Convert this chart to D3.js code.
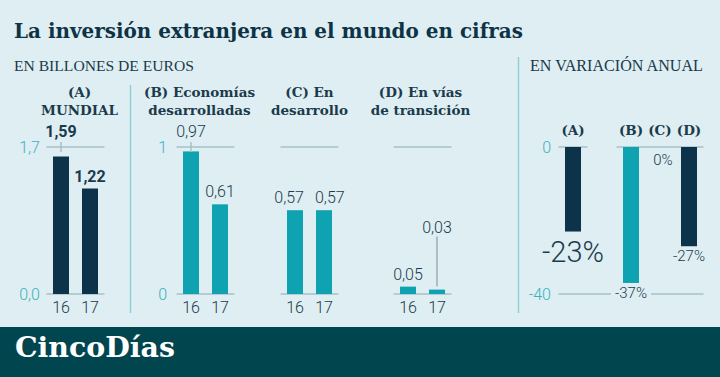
<!DOCTYPE html>
<html>
<head>
<meta charset="utf-8">
<script src="https://cdn.jsdelivr.net/npm/d3@7"></script>
<style>
  body { margin: 0; background: #deeef2; }
  svg { display: block; }
</style>
</head>
<body>
<svg id="chart" width="720" height="377"></svg>
<script>
const years = ["16", "17"];
const panelTitles = [
  ["(A)", "MUNDIAL"],
  ["(B) Economías", "desarrolladas"],
  ["(C) En", "desarrollo"],
  ["(D) En vías", "de transición"]
];
const mundial = [1.59, 1.22];
const desarrolladas = [0.97, 0.61];
const enDesarrollo = [0.57, 0.57];
const transicion = [0.05, 0.03];
const variationCats = ["(A)", "(B)", "(C)", "(D)"];
const variation = [-23, -37, 0, -27];

const navy = "#0c3349", teal = "#0fa2b0", ink = "#1b3a4b", axisTeal = "#3ab3be", grid = "#a7c1c7";
const serif = "'DejaVu Serif', serif", sans = "Roboto, 'Open Sans', sans-serif";

const svg = d3.select("#chart");

// fit a text node to a given width by changing its font size
function fit(sel, w) {
  const n = sel.node();
  const fs = parseFloat(sel.attr("font-size"));
  sel.attr("font-size", fs * w / n.getComputedTextLength());
}

// title
svg.append("text").attr("x", 14).attr("y", 38)
  .attr("font-family", serif).attr("font-weight", "bold").attr("font-size", 20)
  .attr("fill", "#0f3346")
  .text("La inversión extranjera en el mundo en cifras")
  .call(fit, 509);

svg.append("text").attr("x", 14).attr("y", 71)
  .attr("font-family", "'Liberation Serif', serif").attr("font-size", 14)
  .attr("fill", ink).text("EN BILLONES DE EUROS").call(fit, 180);

svg.append("text").attr("x", 530).attr("y", 71)
  .attr("font-family", "'Liberation Serif', serif").attr("font-size", 14)
  .attr("fill", ink).text("EN VARIACIÓN ANUAL").call(fit, 173);

// separators
svg.append("line").attr("x1", 130.5).attr("x2", 130.5).attr("y1", 85).attr("y2", 313)
  .attr("stroke", "#8fd0d7").attr("stroke-width", 1.5);
svg.append("line").attr("x1", 518.5).attr("x2", 518.5).attr("y1", 57).attr("y2", 313)
  .attr("stroke", "#8fd0d7").attr("stroke-width", 1.5);

const baseY = 294, topY = 147;
const panels = [
  { values: mundial, x0: 46.5, max: 1.7, color: navy, bold: true, ticks: ["0,0", "1,7"], tickX: 40, shift: 4 },
  { values: desarrolladas, x0: 176.5, max: 1, color: teal, bold: false, ticks: ["0", "1"], tickX: 167, shift: -6 },
  { values: enDesarrollo, x0: 280.5, max: 1, color: teal, bold: false, shift: 0 },
  { values: transicion, x0: 393.5, max: 1, color: teal, bold: false, shift: -2 }
];
const fmt = v => d3.format(".2f")(v).replace(".", ",");

panels.forEach((p, k) => {
  const x = d3.scaleBand().domain(years).range([p.x0, p.x0 + 58])
    .paddingInner(0.448).paddingOuter(0.224);
  const y = d3.scaleLinear().domain([0, p.max]).range([baseY, topY]);
  const g = svg.append("g");
  const cx = p.x0 + 29 + p.shift;

  panelTitles[k].forEach((t, i) => {
    g.append("text").attr("x", cx).attr("y", 97 + i * 18).attr("text-anchor", "middle")
      .attr("font-family", serif).attr("font-weight", "bold").attr("font-size", 13.5)
      .attr("fill", ink).text(t);
  });

  // top gridline and baseline
  g.append("line").attr("x1", p.x0).attr("x2", p.x0 + 58)
    .attr("y1", y(p.max)).attr("y2", y(p.max)).attr("stroke", grid).attr("stroke-width", 1.5);
  g.append("line").attr("x1", p.x0).attr("x2", p.x0 + 58)
    .attr("y1", y(0)).attr("y2", y(0)).attr("stroke", grid).attr("stroke-width", 1.5);

  if (p.ticks) {
    [0, p.max].forEach((v, i) => {
      g.append("text").attr("x", p.tickX).attr("y", y(v) + 5.5).attr("text-anchor", "end")
        .attr("font-family", sans).attr("font-weight", 300).attr("font-size", 16)
        .attr("fill", axisTeal).text(p.ticks[i]);
    });
  }

  g.selectAll("rect").data(p.values).enter().append("rect")
    .attr("x", (d, i) => x(years[i])).attr("width", x.bandwidth())
    .attr("y", d => y(d)).attr("height", d => y(0) - y(d))
    .attr("fill", p.color);

  const labels = [];
  p.values.forEach((d, i) => {
    const bx = x(years[i]) + x.bandwidth() / 2;
    let ly = y(d) - 7;
    if (y(d) < topY + 18) {
      // label sits above the gridline with a small tick
      ly = topY - 10;
      g.append("line").attr("x1", bx).attr("x2", bx).attr("y1", topY - 5).attr("y2", topY + 5)
        .attr("stroke", grid).attr("stroke-width", 1.5);
    } else if (y(0) - y(d) < 5) {
      // tiny bar: raise label with a leader line
      ly = y(d) - 57;
      g.append("line").attr("x1", bx).attr("x2", bx).attr("y1", ly + 4).attr("y2", y(d) - 3)
        .attr("stroke", "#8a9ea5").attr("stroke-width", 1.2);
    }
    labels.push(g.append("text").attr("x", bx).attr("y", ly).attr("text-anchor", "middle")
      .attr("font-family", sans).attr("font-weight", p.bold ? "bold" : 300)
      .attr("font-size", 16).attr("fill", ink).text(fmt(d)));

    g.append("text").attr("x", bx).attr("y", 313).attr("text-anchor", "middle")
      .attr("font-family", sans).attr("font-weight", 300).attr("font-size", 16)
      .attr("fill", ink).text(years[i]);
  });

  // push apart two labels on the same line if they collide
  const b0 = labels[0].node().getBBox(), b1 = labels[1].node().getBBox();
  if (Math.abs(b0.y - b1.y) < 4 && b0.x + b0.width + 3 > b1.x) {
    labels[0].attr("text-anchor", "end").attr("x", x(years[0]) + x.bandwidth() + 1);
    labels[1].attr("text-anchor", "start").attr("x", x(years[1]) - 1);
  }
});

// annual variation panel
const slots = [variationCats[0], "", ...variationCats.slice(1)];
const xv = d3.scaleBand().domain(slots).range([558.5, 703.5])
  .paddingInner(0.448).paddingOuter(0.224);
const yv = d3.scaleLinear().domain([-40, 0]).range([baseY, topY]);
const gv = svg.append("g");
const half = xv.step() * 0.224;

gv.append("line").attr("x1", xv.range()[0]).attr("x2", xv(slots[0]) + xv.bandwidth() + half)
  .attr("y1", yv(0)).attr("y2", yv(0)).attr("stroke", grid).attr("stroke-width", 1.5);
gv.append("line").attr("x1", xv(slots[2]) - half).attr("x2", xv.range()[1])
  .attr("y1", yv(0)).attr("y2", yv(0)).attr("stroke", grid).attr("stroke-width", 1.5);

[0, -40].forEach(v => {
  gv.append("text").attr("x", 551).attr("y", yv(v) + 5.5).attr("text-anchor", "end")
    .attr("font-family", sans).attr("font-weight", 300).attr("font-size", 16)
    .attr("fill", axisTeal).text(v);
});

const barColors = [navy, teal, teal, navy];
gv.selectAll("rect").data(variation).enter().append("rect")
  .attr("x", (d, i) => xv(variationCats[i])).attr("width", xv.bandwidth())
  .attr("y", yv(0)).attr("height", d => yv(d) - yv(0))
  .attr("fill", (d, i) => barColors[i]);

variationCats.forEach((c, i) => {
  const bx = xv(c) + xv.bandwidth() / 2;
  gv.append("text").attr("x", bx).attr("y", 135).attr("text-anchor", "middle")
    .attr("font-family", serif).attr("font-weight", "bold").attr("font-size", 13.5)
    .attr("fill", ink).text(c);
});

variation.forEach((d, i) => {
  const bx = xv(variationCats[i]) + xv.bandwidth() / 2;
  const big = i === 0;
  const t = gv.append("text").attr("x", bx + (d === 0 ? 3 : 0)).attr("text-anchor", "middle")
    .attr("font-family", sans).attr("font-weight", 300)
    .attr("font-size", big ? 29 : 15).attr("fill", ink)
    .attr("y", d === 0 ? yv(0) + 18 : (big ? yv(d) + 30 : yv(d) + 15))
    .text(d + "%");
  if (d === d3.min(variation)) {
    // -40 gridline broken around the label
    const bb = t.node().getBBox();
    gv.append("line").attr("x1", xv.range()[0]).attr("x2", bb.x - 4)
      .attr("y1", yv(-40)).attr("y2", yv(-40)).attr("stroke", grid).attr("stroke-width", 1.5);
    gv.append("line").attr("x1", bb.x + bb.width + 4).attr("x2", xv.range()[1])
      .attr("y1", yv(-40)).attr("y2", yv(-40)).attr("stroke", grid).attr("stroke-width", 1.5);
  }
});

// footer
svg.append("rect").attr("x", 0).attr("y", 327).attr("width", 720).attr("height", 50)
  .attr("fill", "#01464f");
svg.append("text").attr("x", 15).attr("y", 357)
  .attr("font-family", serif).attr("font-weight", "bold").attr("font-size", 24)
  .attr("fill", "#ffffff").text("CincoDías").call(fit, 160);
</script>
</body>
</html>
